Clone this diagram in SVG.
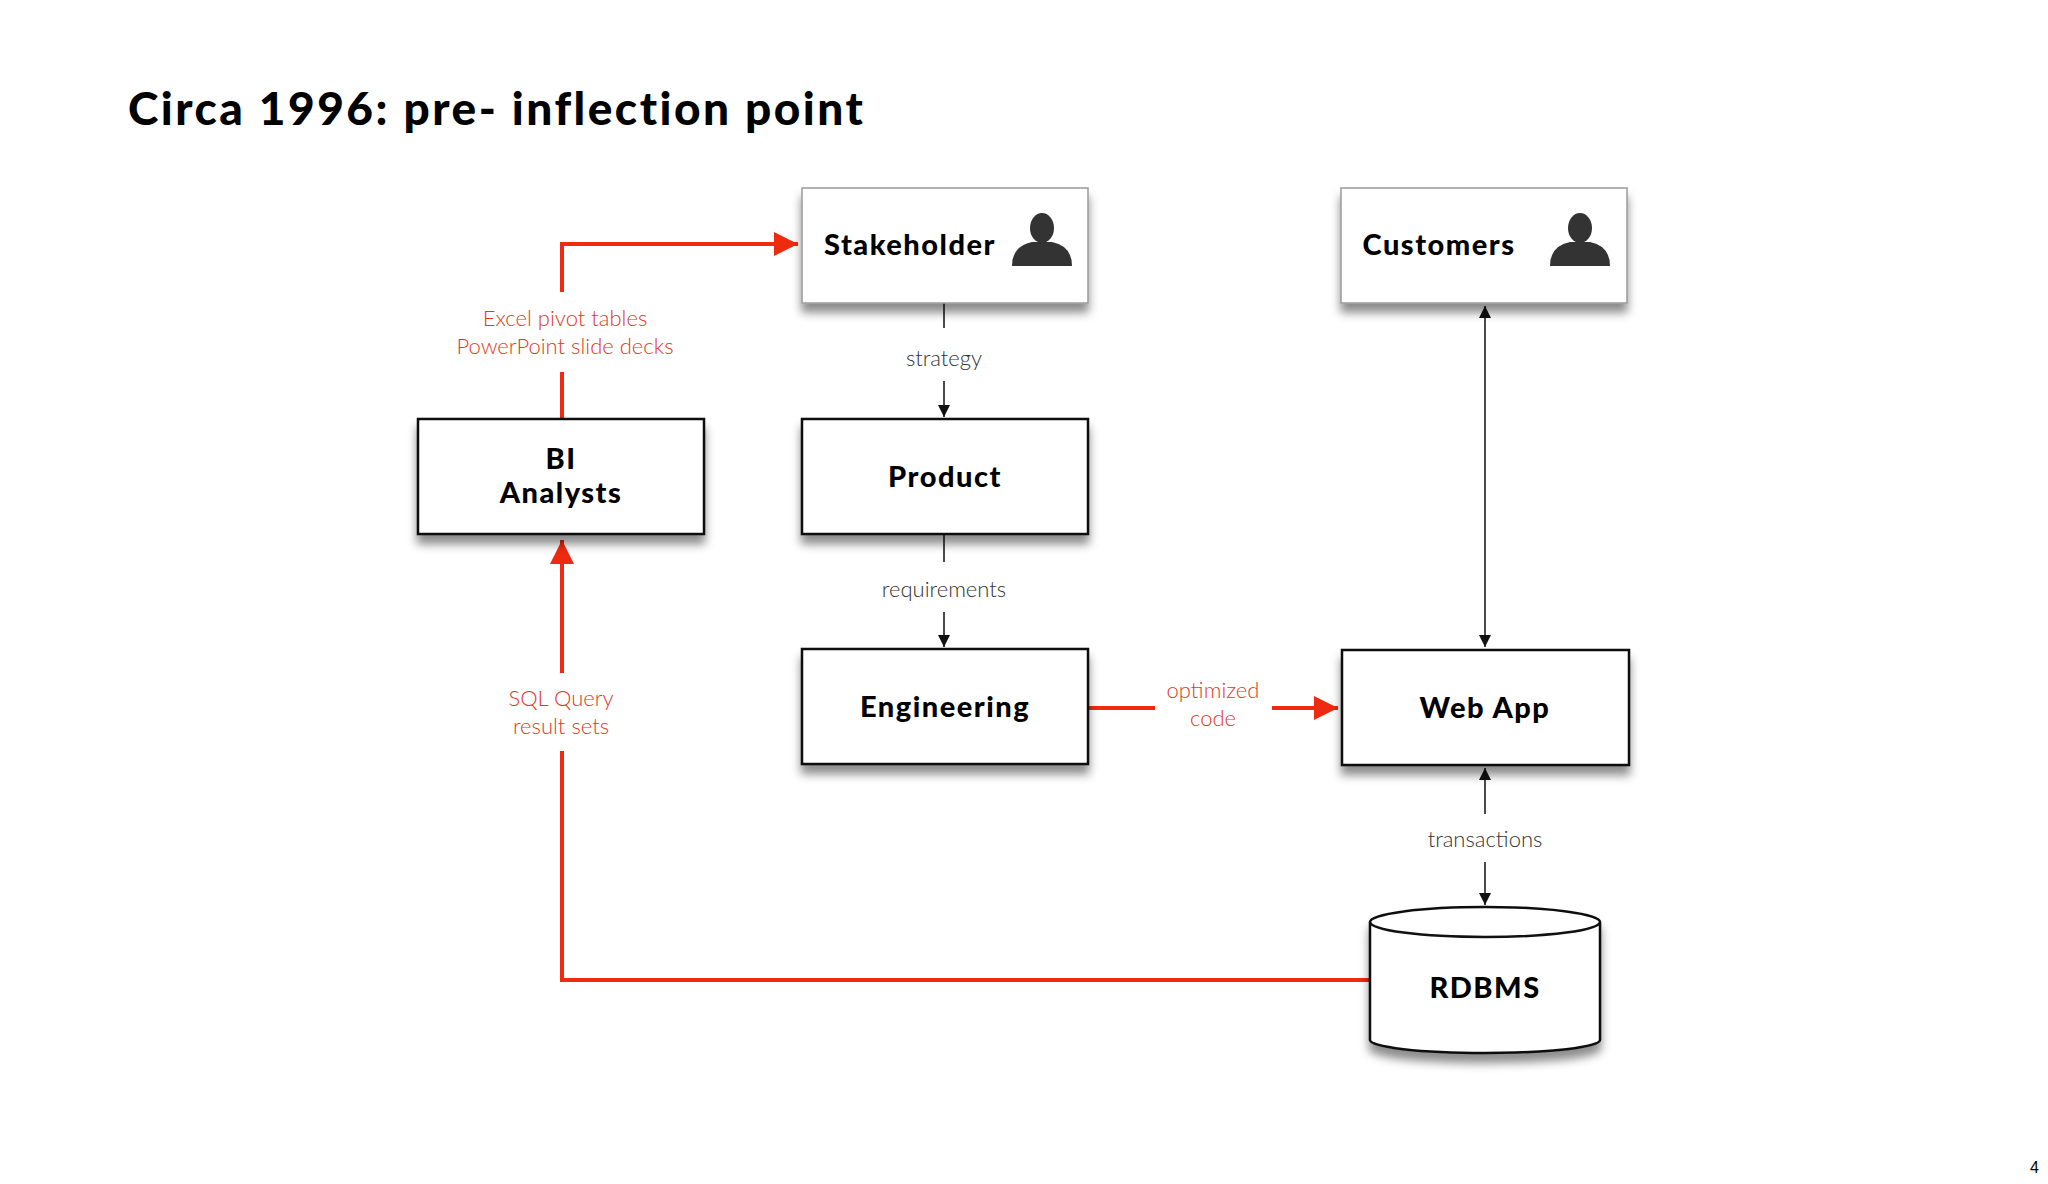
<svg xmlns="http://www.w3.org/2000/svg" width="2048" height="1184" viewBox="0 0 2048 1184">
<style>
.box{fill:#fff;stroke:#111;stroke-width:2.5;filter:url(#sh)}
.lbox{fill:#fff;stroke:#999;stroke-width:1.5;filter:url(#sh)}
.t{font-family:"Lato","Liberation Sans",sans-serif;font-weight:900;font-size:29px;fill:#000;text-anchor:middle;letter-spacing:1.5px}
.l{font-family:"Lato","Liberation Sans",sans-serif;font-weight:300;font-size:22px;fill:#333;text-anchor:middle}
.bk{stroke:#111;stroke-width:1.5;fill:none}
.rd{stroke:#ee2a10;stroke-width:4;fill:none}
</style>
<defs>
<filter id="sh" x="-10%" y="-10%" width="120%" height="140%"><feDropShadow dx="0" dy="9" stdDeviation="5" flood-color="#000" flood-opacity="0.45"/></filter>
<marker id="ab" viewBox="0 0 10 10" refX="10" refY="5" markerWidth="12" markerHeight="12" markerUnits="userSpaceOnUse" orient="auto-start-reverse"><path d="M0,0L10,5L0,10z" fill="#111"/></marker>
<marker id="ar" viewBox="0 0 10 10" refX="10" refY="5" markerWidth="6" markerHeight="6" orient="auto"><path d="M0,0L10,5L0,10z" fill="#ee2a10"/></marker>
<g id="person"><ellipse cx="0" cy="-12" rx="12" ry="15" fill="#333"/><path d="M-30,26 Q-30,6 -10,2 L10,2 Q30,6 30,26 Z" fill="#333"/></g>
</defs>
<rect width="2048" height="1184" fill="#fff"/>
<text x="128" y="125" font-family="Lato,Liberation Sans,sans-serif" font-weight="900" font-size="46" letter-spacing="2.5">Circa 1996: pre- inflection point</text>
<g id="connectors">
<path class="bk" d="M944,303V328M944,381V417" marker-end="url(#ab)"/>
<path class="bk" d="M944,534V562M944,612V647" marker-end="url(#ab)"/>
<path class="bk" d="M1485,306V647" marker-start="url(#ab)" marker-end="url(#ab)"/>
<path class="bk" d="M1485,814V768" marker-end="url(#ab)"/>
<path class="bk" d="M1485,862V905" marker-end="url(#ab)"/>
<path class="rd" d="M562,292V244H798" marker-end="url(#ar)"/>
<path class="rd" d="M562,372V419"/>
<path class="rd" d="M1370,980H562V751"/>
<path class="rd" d="M562,673V540" marker-end="url(#ar)"/>
<path class="rd" d="M1088,708H1155"/>
<path class="rd" d="M1272,708H1338" marker-end="url(#ar)"/>
<text class="l" x="944" y="366">strategy</text>
<text class="l" x="944" y="597">requirements</text>
<text class="l" x="1485" y="847">transactions</text>
<g class="l" style="fill:#e0391f"><text x="565" y="326">Excel pivot tables</text><text x="565" y="354">PowerPoint slide decks</text>
<text x="561" y="706">SQL Query</text><text x="561" y="734">result sets</text>
<text x="1213" y="698">optimized</text><text x="1213" y="726">code</text></g>
</g>
<g id="stakeholder"><rect class="lbox" x="802" y="188" width="286" height="115"/><text class="t" x="910" y="255">Stakeholder</text><use href="#person" x="1042" y="240"/></g>
<g id="customers"><rect class="lbox" x="1341" y="188" width="286" height="115"/><text class="t" x="1439" y="255">Customers</text><use href="#person" x="1580" y="240"/></g>
<g id="bi"><rect class="box" x="418" y="419" width="286" height="115"/><text class="t" x="561" y="469">BI</text><text class="t" x="561" y="503">Analysts</text></g>
<g id="product"><rect class="box" x="802" y="419" width="286" height="115"/><text class="t" x="945" y="487">Product</text></g>
<g id="engineering"><rect class="box" x="802" y="649" width="286" height="115"/><text class="t" x="945" y="717">Engineering</text></g>
<g id="webapp"><rect class="box" x="1342" y="650" width="287" height="115"/><text class="t" x="1485" y="718">Web App</text></g>
<g id="rdbms"><path class="box" d="M1370,922A115,15 0 0 1 1600,922V1040A115,13 0 0 1 1370,1040Z"/><path class="bk" style="stroke-width:2.5" d="M1370,922A115,15 0 0 0 1600,922"/><text class="t" x="1485" y="998">RDBMS</text></g>
<text x="2030" y="1173" font-family="Liberation Sans,sans-serif" font-size="16">4</text>
</svg>
